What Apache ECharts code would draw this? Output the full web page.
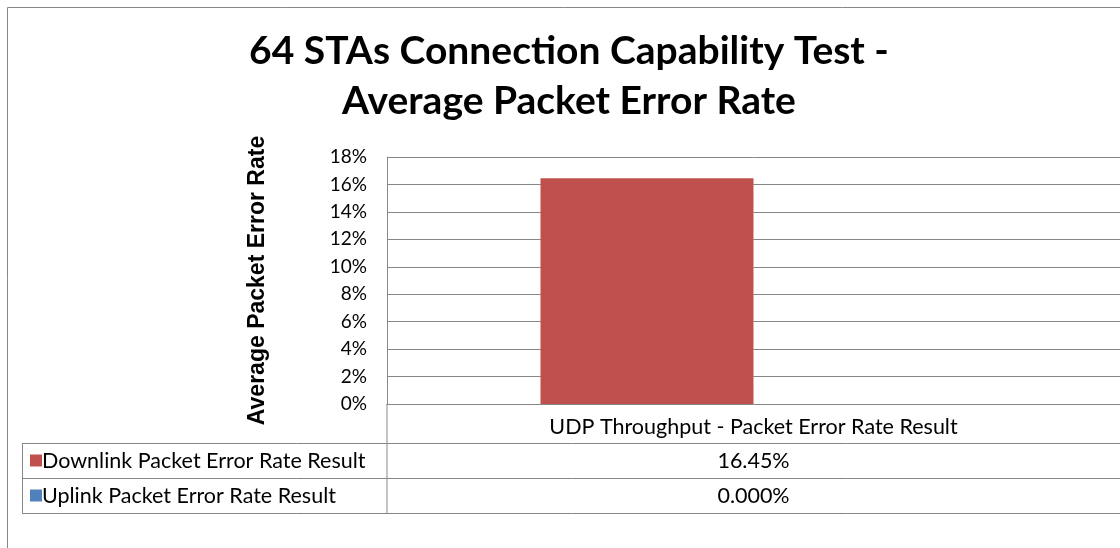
<!DOCTYPE html>
<html><head><meta charset="utf-8">
<script src="https://cdn.jsdelivr.net/npm/echarts@6/dist/echarts.min.js"></script>
<style>html,body{margin:0;padding:0;background:#fff}#c{width:1120px;height:548px}</style>
</head><body><div id="c"></div>
<script>
const titleLines = ['64 STAs Connection Capability Test -', 'Average Packet Error Rate'];
const categories = ['UDP Throughput - Packet Error Rate Result'];
const seriesNames = ['Downlink Packet Error Rate Result', 'Uplink Packet Error Rate Result'];
const downlinkValues = [0.1645];
const uplinkValues = [0.0];
const valueLabels = [['16.45%'], ['0.000%']];
const yTicks = [0, 0.02, 0.04, 0.06, 0.08, 0.10, 0.12, 0.14, 0.16, 0.18];
const yAxisName = 'Average Packet Error Rate';
const colors = ['#C0504D', '#4F81BD'];

const chart = echarts.init(document.getElementById('c'), null, {renderer: 'canvas'});
const GRID = '#878787';
const FONT = 'Lato';
const TFS = 21.5;
const PLOT_LEFT = 387, PLOT_TOP = 157, PLOT_W = 742, PLOT_H = 247;
const ROW_Y = [404, 443, 478, 513];

chart.setOption({
  animation: false,
  backgroundColor: '#fff',
  title: {
    text: titleLines.join('\n'), left: 564, top: 21, textAlign: 'center',
    textStyle: {fontFamily: FONT, fontWeight: 'bold', fontSize: 39, lineHeight: 50, color: '#000'}
  },
  grid: {left: PLOT_LEFT, top: PLOT_TOP, width: PLOT_W, height: PLOT_H, containLabel: false},
  xAxis: {
    type: 'category', data: categories,
    axisLine: {show: true, lineStyle: {color: GRID, width: 1}},
    axisTick: {show: false},
    axisLabel: {fontFamily: FONT, fontSize: TFS, color: '#000', margin: 12}
  },
  yAxis: {
    type: 'value', min: yTicks[0], max: yTicks[yTicks.length - 1], interval: yTicks[1] - yTicks[0],
    name: yAxisName, nameLocation: 'middle', nameGap: 118, nameRotate: 90,
    nameTextStyle: {fontFamily: 'Liberation Sans', fontWeight: 'bold', fontSize: 23, color: '#000'},
    axisLine: {show: true, lineStyle: {color: GRID, width: 1}},
    axisTick: {show: false},
    axisLabel: {fontFamily: FONT, fontSize: 19, color: '#000', margin: 20,
      formatter: v => Math.round(v * 100) + '%'},
    splitLine: {show: true, lineStyle: {color: GRID, width: 1}}
  },
  series: [
    {name: seriesNames[0], type: 'bar', data: downlinkValues, barWidth: 213, barGap: '0%',
     itemStyle: {color: colors[0]}},
    {name: seriesNames[1], type: 'bar', data: uplinkValues, barWidth: 213,
     itemStyle: {color: colors[1]}}
  ]
});

// Data table drawn below the plot, aligned with the category axis
const cx = chart.convertToPixel({xAxisIndex: 0}, categories[0]);
const line = (x1, y1, x2, y2) => ({type: 'line', silent: true,
  shape: {x1, y1, x2, y2}, style: {stroke: GRID, lineWidth: 1}});
const g = [];
g.push({type: 'rect', shape: {x: 7.5, y: 7.5, width: 1200, height: 700},
  style: {fill: null, stroke: GRID, lineWidth: 1}, silent: true});
g.push(line(PLOT_LEFT, ROW_Y[0], PLOT_LEFT, ROW_Y[3]));
for (let i = 1; i < ROW_Y.length; i++) g.push(line(22, ROW_Y[i] + 0.5, 1200, ROW_Y[i] + 0.5));
g.push(line(22.5, ROW_Y[1], 22.5, ROW_Y[3]));
seriesNames.forEach((n, i) => {
  const yc = (ROW_Y[i + 1] + ROW_Y[i + 2]) / 2;
  g.push({type: 'rect', shape: {x: 30, y: yc - 6, width: 12, height: 12}, style: {fill: colors[i]}});
  g.push({type: 'text', x: 42, y: yc + 1, style: {text: n, fontFamily: FONT, fontSize: TFS, fill: '#000',
    verticalAlign: 'middle', align: 'left'}});
  g.push({type: 'text', x: cx, y: yc + 1, style: {text: valueLabels[i][0], fontFamily: FONT, fontSize: TFS,
    fill: '#000', verticalAlign: 'middle', align: 'center'}});
});
chart.setOption({graphic: g});
</script></body></html>
